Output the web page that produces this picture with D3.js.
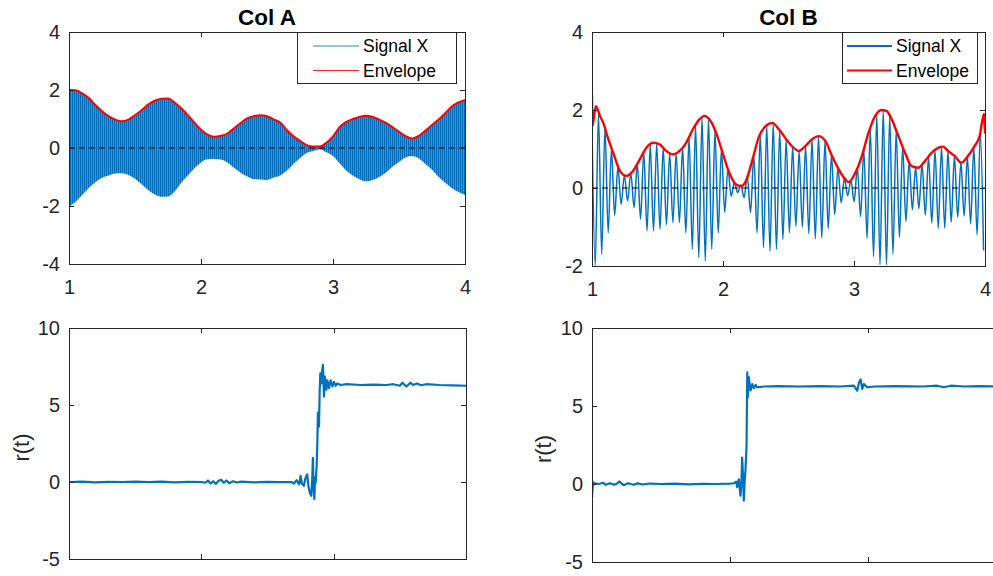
<!DOCTYPE html>
<html>
<head>
<meta charset="utf-8">
<script src="https://cdn.jsdelivr.net/npm/d3@7"></script>
<style>
  body { margin: 0; background: #fff; }
  svg { display: block; font-family: "Liberation Sans", Arial, Helvetica, sans-serif; }
</style>
</head>
<body>
<svg id="chart" width="993" height="576"></svg>
<script>
// ---------------- data ----------------
const titles = ["Col A", "Col B"];
const legendNames = ["Signal X", "Envelope"];
const yLabelBottom = "r(t)";
const xTicks = [1, 2, 3, 4];
const xTickLabels = ["1", "2", "3", "4"];
const yTicksTopA = [-4, -2, 0, 2, 4];
const yTicksTopB = [-2, 0, 2, 4];
const yTicksBottom = [-5, 0, 5, 10];
const zeroLevel = [0];

// Col A: upper envelope (carrier peaks) and lower carrier troughs, t = 1.00 ... 4.00 every 0.05
const envelopeA = [2.0, 1.99, 1.88, 1.72, 1.48, 1.27, 1.1, 0.98, 0.92, 0.98,
  1.13, 1.3, 1.5, 1.63, 1.7, 1.71, 1.57, 1.37, 1.13, 0.87,
  0.63, 0.46, 0.39, 0.42, 0.5, 0.68, 0.86, 1.02, 1.1, 1.13,
  1.1, 0.99, 0.88, 0.62, 0.4, 0.25, 0.1, 0.05, 0.05, 0.18,
  0.4, 0.72, 0.9, 1.0, 1.07, 1.11, 1.07, 0.98, 0.87, 0.72,
  0.56, 0.41, 0.33, 0.42, 0.6, 0.79, 0.98, 1.2, 1.43, 1.57, 1.66];
const troughA = [-2.02, -1.85, -1.62, -1.38, -1.18, -1.03, -0.95, -0.88, -0.87, -0.93,
  -1.06, -1.25, -1.45, -1.6, -1.68, -1.67, -1.5, -1.2, -0.95, -0.7,
  -0.5, -0.39, -0.38, -0.4, -0.5, -0.68, -0.85, -0.98, -1.07, -1.09,
  -1.1, -1.02, -0.95, -0.78, -0.55, -0.35, -0.17, -0.1, -0.05, -0.15,
  -0.28, -0.53, -0.78, -0.95, -1.08, -1.15, -1.1, -1.0, -0.85, -0.65,
  -0.48, -0.33, -0.28, -0.36, -0.55, -0.75, -1.0, -1.2, -1.38, -1.52, -1.62];

// Col B: successive carrier peaks and troughs (alternating, evenly spaced from t = 1.000 to 3.989)
const peaksB = [1.6, 1.9, 1.55, 1.0, 0.55, 0.33, 0.38, 0.62, 0.92, 1.11,
  1.14, 1.03, 0.9, 0.9, 1.05, 1.31, 1.61, 1.81, 1.78, 1.48,
  1.0, 0.5, 0.14, 0.08, 0.3, 0.85, 1.37, 1.6, 1.66, 1.49,
  1.24, 1.06, 0.95, 1.08, 1.25, 1.33, 1.21, 0.85, 0.52, 0.25,
  0.2, 0.52, 0.99, 1.54, 1.89, 2.0, 1.85, 1.48, 1.06, 0.68,
  0.53, 0.61, 0.8, 0.97, 1.05, 0.95, 0.83, 0.66, 0.8, 1.05, 1.4];
const troughsB = [-2.0, -1.7, -1.15, -0.7, -0.42, -0.33, -0.5, -0.8, -1.1, -1.1,
  -1.06, -0.94, -0.89, -0.89, -1.15, -1.57, -1.78, -1.87, -1.57, -1.15,
  -0.62, -0.21, -0.12, -0.25, -0.63, -1.15, -1.53, -1.62, -1.57, -1.32,
  -1.15, -0.98, -1.0, -1.17, -1.3, -1.28, -1.04, -0.68, -0.38, -0.2,
  -0.35, -0.73, -1.29, -1.76, -1.97, -1.97, -1.69, -1.27, -0.86, -0.56,
  -0.53, -0.7, -0.9, -1.03, -1.03, -0.88, -0.75, -0.72, -0.92, -1.2, -1.6];
const envTimesB = [1.000, 1.004, 1.012, 1.03, 1.06, 1.086, 1.12, 1.162, 1.213, 1.263,
  1.314, 1.364, 1.415, 1.466, 1.516, 1.567, 1.617, 1.668, 1.719, 1.769,
  1.82, 1.858, 1.896, 1.947, 1.997, 2.048, 2.099, 2.137, 2.175, 2.225,
  2.276, 2.327, 2.377, 2.428, 2.503, 2.579, 2.63, 2.68, 2.731, 2.782,
  2.832, 2.883, 2.934, 2.959, 3.01, 3.06, 3.111, 3.162, 3.212, 3.25,
  3.288, 3.339, 3.39, 3.44, 3.49, 3.541, 3.592, 3.642, 3.68, 3.718,
  3.769, 3.82, 3.87, 3.921, 3.959, 3.977, 3.992, 4.0];
const envValuesB = [2.4, 1.6, 1.75, 2.1, 1.85, 1.67, 1.3, 0.9, 0.44, 0.31,
  0.44, 0.73, 1.03, 1.16, 1.12, 0.95, 0.86, 0.95, 1.16, 1.5,
  1.76, 1.85, 1.76, 1.42, 0.9, 0.39, 0.09, 0.05, 0.18, 0.73,
  1.33, 1.59, 1.67, 1.5, 1.16, 0.95, 1.08, 1.25, 1.33, 1.2,
  0.82, 0.48, 0.22, 0.15, 0.39, 0.82, 1.42, 1.85, 2.0, 1.97,
  1.76, 1.33, 0.9, 0.56, 0.52, 0.69, 0.9, 1.03, 1.06, 0.95,
  0.82, 0.65, 0.82, 1.08, 1.33, 1.68, 1.9, 1.4];

// r(t) traces
const rTimesA = [1.0, 1.1, 1.2, 1.3, 1.4, 1.5, 1.6, 1.7, 1.8, 1.9,
  2.0, 2.03, 2.05, 2.07, 2.09, 2.11, 2.13, 2.15, 2.17, 2.19,
  2.21, 2.24, 2.27, 2.3, 2.4, 2.5, 2.6, 2.68, 2.70, 2.72,
  2.74, 2.75, 2.76, 2.775, 2.785, 2.8, 2.81, 2.82, 2.831, 2.838,
  2.843, 2.848, 2.854, 2.86, 2.864, 2.871, 2.876, 2.881, 2.889, 2.894,
  2.899, 2.907, 2.914, 2.919, 2.927, 2.934, 2.945, 2.952, 2.965, 2.977,
  2.99, 3.002, 3.015, 3.028, 3.053, 3.1, 3.2, 3.3, 3.4, 3.45,
  3.5, 3.52, 3.55, 3.58, 3.6, 3.63, 3.66, 3.7, 3.8, 3.9, 4.0];
const rValuesA = [0, 0.02, -0.02, 0.01, 0, 0.02, -0.01, 0.02, -0.02, 0.01,
  0, -0.05, 0.1, -0.1, 0.05, -0.12, 0.08, 0.15, -0.05, 0.1,
  -0.08, 0.05, -0.03, 0.02, -0.02, 0.01, -0.01, 0, -0.1, 0.12,
  -0.15, 0.4, -0.1, -0.25, 0.2, 0.5, -0.3, -0.7, -0.9, 0.2,
  1.57, -0.2, -1.1, 0.3, -0.05, 1.0, 2.3, 4.5, 3.6, 5.8,
  7.05, 6.4, 7.3, 7.6, 5.55, 6.85, 6.0, 6.6, 6.1, 6.6,
  6.2, 6.5, 6.25, 6.4, 6.3, 6.35, 6.3, 6.32, 6.3, 6.35,
  6.25, 6.45, 6.2, 6.45, 6.3, 6.4, 6.28, 6.35, 6.3, 6.28, 6.25];
const rTimesB = [1.0, 1.004, 1.008, 1.02, 1.05, 1.08, 1.1, 1.13, 1.16, 1.18,
  1.2, 1.21, 1.23, 1.26, 1.3, 1.33, 1.37, 1.42, 1.5, 1.6,
  1.7, 1.8, 1.9, 2.0, 2.028, 2.045, 2.052, 2.064, 2.076, 2.083,
  2.088, 2.095, 2.1, 2.107, 2.112, 2.12, 2.125, 2.129, 2.136, 2.149,
  2.161, 2.173, 2.185, 2.197, 2.25, 2.35, 2.5, 2.65, 2.8, 2.897,
  2.91, 2.922, 2.934, 2.946, 2.958, 2.97, 2.994, 3.05, 3.2, 3.4,
  3.5, 3.55, 3.6, 3.7, 3.8, 4.0];
const rValuesB = [-0.85, -0.3, 0.1, 0.05, 0, 0.08, -0.05, 0.05, -0.04, 0.02,
  0.17, 0.05, -0.08, 0.05, -0.05, 0.04, -0.03, 0.03, 0, 0.02,
  -0.02, 0.01, 0, 0.02, 0.05, 0.15, -0.2, 0.3, -0.75, 0.2,
  1.7, 0.4, -1.07, 0.3, 0.85, 2.5, 7.15, 5.55, 6.85, 6.0,
  6.4, 6.15, 6.35, 6.2, 6.25, 6.28, 6.25, 6.27, 6.25, 6.3,
  6.15, 5.98, 6.5, 6.7, 6.1, 6.4, 6.2, 6.25, 6.27, 6.25,
  6.3, 6.2, 6.3, 6.25, 6.28, 6.25];

// ---------------- layout & style ----------------
const BLUE = "#0072BD", RED = "#FF0000", AX = "#262626";
const TICK_FONT = "20px", TITLE_FONT = "22.5px", LABEL_FONT = "22px", LEGEND_FONT = "17.5px";
const boxes = {
  aTop: { x0: 69, x1: 465, y0: 32, y1: 264 },
  bTop: { x0: 592, x1: 985, y0: 32, y1: 266 },
  aBot: { x0: 69, x1: 466, y0: 328, y1: 559 },
  bBot: { x0: 592, x1: 1006, y0: 328, y1: 562 }
};

const svg = d3.select("#chart");
const defs = svg.append("defs");

// fine vertical striping used to render the dense carrier of Col A
const pat = defs.append("pattern").attr("id", "carrier")
  .attr("patternUnits", "userSpaceOnUse").attr("width", 2).attr("height", 8);
pat.append("rect").attr("width", 2).attr("height", 8).attr("fill", "#5f9fd4");
pat.append("rect").attr("width", 1.3).attr("height", 8).attr("fill", "#006cb8");

function makeScales(key, yDomain) {
  const b = boxes[key];
  const x = d3.scaleLinear().domain([1, 4]).range([b.x0, b.x1]);
  const y = d3.scaleLinear().domain(yDomain).range([b.y1, b.y0]);
  defs.append("clipPath").attr("id", "clip-" + key)
    .append("rect").attr("x", b.x0).attr("y", b.y0)
    .attr("width", b.x1 - b.x0).attr("height", b.y1 - b.y0);
  return { x, y, b, clip: "url(#clip-" + key + ")" };
}

function drawFrame(s, yTicks, showXLabels) {
  const g = svg.append("g").attr("class", "frame");
  const { x, y, b } = s;
  const fmt = (d, i) => showXLabels ? xTickLabels[i] : "";
  const styleAxis = sel => {
    sel.select(".domain").remove();
    sel.selectAll("line").attr("stroke", AX).attr("shape-rendering", "crispEdges");
    sel.selectAll("text").attr("fill", AX).style("font-size", TICK_FONT);
  };
  g.append("g").attr("transform", `translate(0,${b.y1})`)
    .call(d3.axisBottom(x).tickValues(xTicks).tickSize(-5).tickPadding(16).tickFormat(fmt))
    .call(styleAxis);
  g.append("g").attr("transform", `translate(0,${b.y0})`)
    .call(d3.axisTop(x).tickValues(xTicks).tickSize(-5).tickFormat(""))
    .call(styleAxis);
  g.append("g").attr("transform", `translate(${b.x0},0)`)
    .call(d3.axisLeft(y).tickValues(yTicks).tickSize(-5).tickPadding(9).tickFormat(d => String(d)))
    .call(styleAxis);
  g.append("g").attr("transform", `translate(${b.x1},0)`)
    .call(d3.axisRight(y).tickValues(yTicks).tickSize(-5).tickFormat(""))
    .call(styleAxis);
  g.append("rect").attr("x", b.x0 + 0.5).attr("y", b.y0 + 0.5)
    .attr("width", b.x1 - b.x0).attr("height", b.y1 - b.y0)
    .attr("fill", "none").attr("stroke", AX).attr("stroke-width", 1)
    .attr("shape-rendering", "crispEdges");
}

function drawTitle(s, text) {
  svg.append("text").attr("x", (s.b.x0 + s.b.x1) / 2).attr("y", 25)
    .attr("text-anchor", "middle").attr("font-weight", "bold")
    .style("font-size", TITLE_FONT).attr("fill", "#000").text(text);
}

function drawZero(s) {
  svg.append("g").attr("clip-path", s.clip).selectAll("line").data(zeroLevel).join("line")
    .attr("x1", s.b.x0).attr("x2", s.b.x1)
    .attr("y1", d => s.y(d)).attr("y2", d => s.y(d))
    .attr("stroke", "#000").attr("stroke-width", 1.2).attr("stroke-dasharray", "6,4");
}

function drawLegend(lx0, lx1, sx0, sx1, tx, thin) {
  const g = svg.append("g");
  g.append("rect").attr("x", lx0 + 0.5).attr("y", 32.5).attr("width", lx1 - lx0).attr("height", 51)
    .attr("fill", "#fff").attr("stroke", AX).attr("stroke-width", 1).attr("shape-rendering", "crispEdges");
  const rows = [46, 70.5];
  const cols = [BLUE, RED];
  legendNames.forEach((name, i) => {
    g.append("line").attr("x1", sx0).attr("x2", sx1).attr("y1", rows[i]).attr("y2", rows[i])
      .attr("stroke", cols[i]).attr("stroke-width", thin ? 1 : 2).attr("opacity", thin ? 0.85 : 1);
    g.append("text").attr("x", tx).attr("y", rows[i] + 6.3).attr("fill", "#000")
      .style("font-size", LEGEND_FONT).text(name);
  });
}

// ---------------- Col A, top ----------------
{
  const s = makeScales("aTop", [-4, 4]);
  const ti = d3.scaleLinear().domain([0, envelopeA.length - 1]).range([1, 4]);
  const pairs = d3.zip(envelopeA, troughA);
  const g = svg.append("g").attr("clip-path", s.clip);
  g.append("path").datum(pairs)
    .attr("d", d3.area().curve(d3.curveMonotoneX)
      .x((d, i) => s.x(ti(i))).y0(d => s.y(d[1])).y1(d => s.y(d[0])))
    .attr("fill", "url(#carrier)");
  drawZero(s);
  svg.append("g").attr("clip-path", s.clip).append("path").datum(envelopeA)
    .attr("d", d3.line().curve(d3.curveMonotoneX).x((d, i) => s.x(ti(i))).y(d => s.y(d)))
    .attr("fill", "none").attr("stroke", RED).attr("stroke-width", 2);
  drawFrame(s, yTicksTopA, true);
  drawTitle(s, titles[0]);
  drawLegend(297, 456, 313, 359, 363, true);
}

// ---------------- Col B, top ----------------
{
  const s = makeScales("bTop", [-2, 4]);
  const n = peaksB.length + troughsB.length;
  const seq = d3.range(n).map(i => (i % 2 === 0 ? peaksB[i / 2] : troughsB[(i - 1) / 2]));
  const ti = d3.scaleLinear().domain([0, n - 1]).range([1.0, 3.989]);
  const g = svg.append("g").attr("clip-path", s.clip);
  g.append("path").datum(seq)
    .attr("d", d3.line().curve(d3.curveMonotoneX).x((d, i) => s.x(ti(i))).y(d => s.y(d)))
    .attr("fill", "none").attr("stroke", BLUE).attr("stroke-width", 1.5);
  drawZero(s);
  svg.append("g").attr("clip-path", s.clip).append("path").datum(d3.zip(envTimesB, envValuesB))
    .attr("d", d3.line().curve(d3.curveMonotoneX).x(d => s.x(d[0])).y(d => s.y(d[1])))
    .attr("fill", "none").attr("stroke", RED).attr("stroke-width", 2.4);
  drawFrame(s, yTicksTopB, true);
  drawTitle(s, titles[1]);
  drawLegend(842, 977, 847, 892, 896, false);
}

// ---------------- r(t) panels ----------------
function drawR(key, times, values, labelX) {
  const s = makeScales(key, [-5, 10]);
  svg.append("g").attr("clip-path", s.clip).append("path").datum(d3.zip(times, values))
    .attr("d", d3.line().x(d => s.x(d[0])).y(d => s.y(d[1])))
    .attr("fill", "none").attr("stroke", BLUE).attr("stroke-width", 2.2)
    .attr("stroke-linejoin", "round");
  drawFrame(s, yTicksBottom, false);
  const cy = (s.b.y0 + s.b.y1) / 2 + 4;
  svg.append("text").attr("transform", `translate(${labelX},${cy}) rotate(-90)`)
    .attr("text-anchor", "middle").style("font-size", LABEL_FONT).attr("fill", AX)
    .text(yLabelBottom);
}
drawR("aBot", rTimesA, rValuesA, 29);
drawR("bBot", rTimesB, rValuesB, 551);
</script>
</body>
</html>
